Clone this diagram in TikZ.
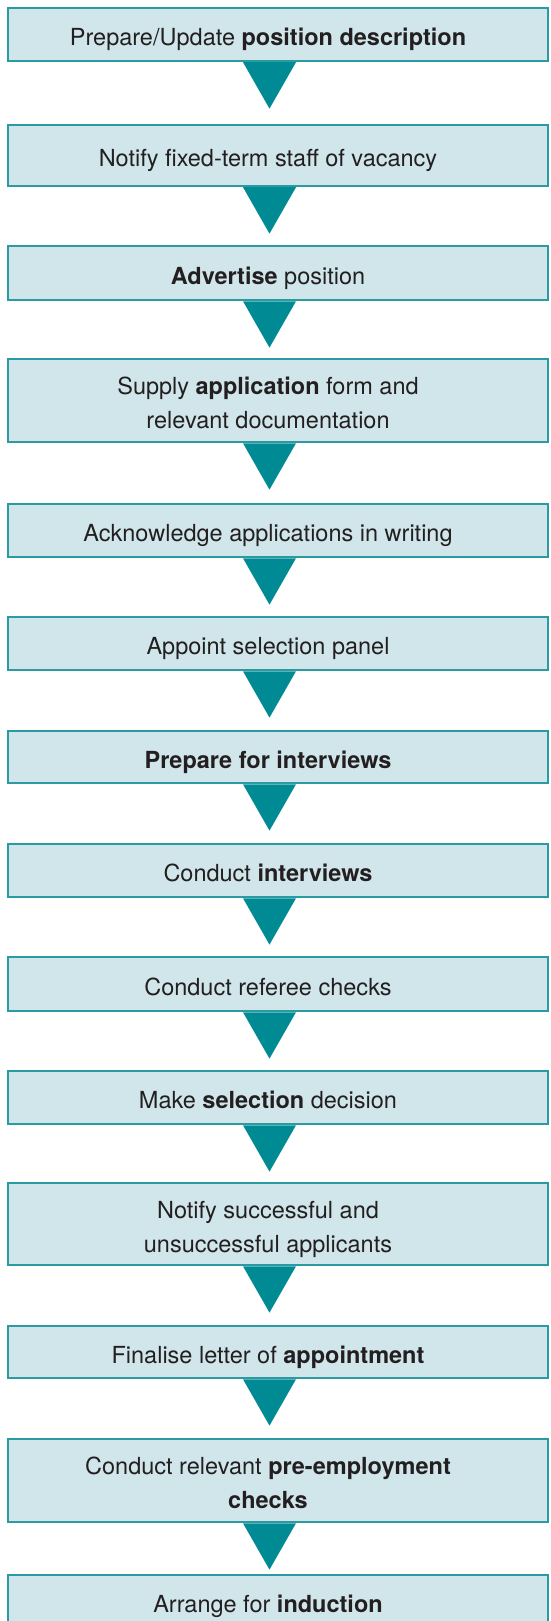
\documentclass[tikz,border=0pt]{standalone}
\usepackage{fontspec}
\setmainfont{TeX Gyre Heros}
\definecolor{boxfill}{HTML}{D0E6EB}
\definecolor{boxline}{HTML}{2A9AA3}
\definecolor{trifill}{HTML}{008B94}
\definecolor{txt}{HTML}{231F20}
\newcommand\stepstrut{\rule[-5.5pt]{0pt}{33.5pt}}
\newcommand\steptxt[1]{\makebox[540pt][l]{\parbox{520pt}{\centering\color{txt}\fontsize{23.5pt}{34pt}\selectfont\stepstrut #1\stepstrut}}}
\tikzset{
  stepbox/.style={draw=boxline, line width=1.3pt, fill=boxfill, rectangle, inner sep=0pt, minimum width=540pt},
  tri/.style={fill=trifill}
}
\begin{document}
\begin{tikzpicture}[x=1pt,y=1pt]
\useasboundingbox (0,0) rectangle (550,-1621);
\clip (0,0) rectangle (550,-1621);
\fill[white] (0,0) rectangle (550,-1621);
\node[stepbox, minimum height=53pt] (b1) at (278,-34.5) {\steptxt{Prepare/Update \textbf{position description}}};
\node[stepbox, minimum height=61pt] (b2) at (278,-155.5) {\steptxt{Notify fixed-term staff of vacancy}};
\node[stepbox, minimum height=54pt] (b3) at (278,-273) {\steptxt{\textbf{Advertise} position}};
\node[stepbox, minimum height=83pt] (b4) at (278,-400.5) {\steptxt{Supply \textbf{application} form and\\relevant documentation}};
\node[stepbox, minimum height=53pt] (b5) at (278,-530.5) {\steptxt{Acknowledge applications in writing}};
\node[stepbox, minimum height=53pt] (b6) at (278,-643.5) {\steptxt{Appoint selection panel}};
\node[stepbox, minimum height=52pt] (b7) at (278,-757) {\steptxt{\textbf{Prepare for interviews}}};
\node[stepbox, minimum height=53pt] (b8) at (278,-870.5) {\steptxt{Conduct \textbf{interviews}}};
\node[stepbox, minimum height=54pt] (b9) at (278,-984) {\steptxt{Conduct referee checks}};
\node[stepbox, minimum height=53pt] (b10) at (278,-1097.5) {\steptxt{Make \textbf{selection} decision}};
\node[stepbox, minimum height=82pt] (b11) at (278,-1224) {\steptxt{Notify successful and\\unsuccessful applicants}};
\node[stepbox, minimum height=52pt] (b12) at (278,-1352) {\steptxt{Finalise letter of \textbf{appointment}}};
\node[stepbox, minimum height=83pt] (b13) at (278,-1480.5) {\steptxt{Conduct relevant \textbf{pre-employment}\\\textbf{checks}}};
\node[stepbox, minimum height=53pt] (b14) at (278,-1601.5) {\steptxt{Arrange for \textbf{induction}}};
\foreach \b in {b1,b2,b3,b4,b5,b6,b7,b8,b9,b10,b11,b12,b13}{
  \fill[tri] ([xshift=-35pt,yshift=-0.6pt]\b.south) -- ([xshift=18pt,yshift=-0.6pt]\b.south) -- ([xshift=-8.5pt,yshift=-47pt]\b.south) -- cycle;
}
\end{tikzpicture}
\end{document}
